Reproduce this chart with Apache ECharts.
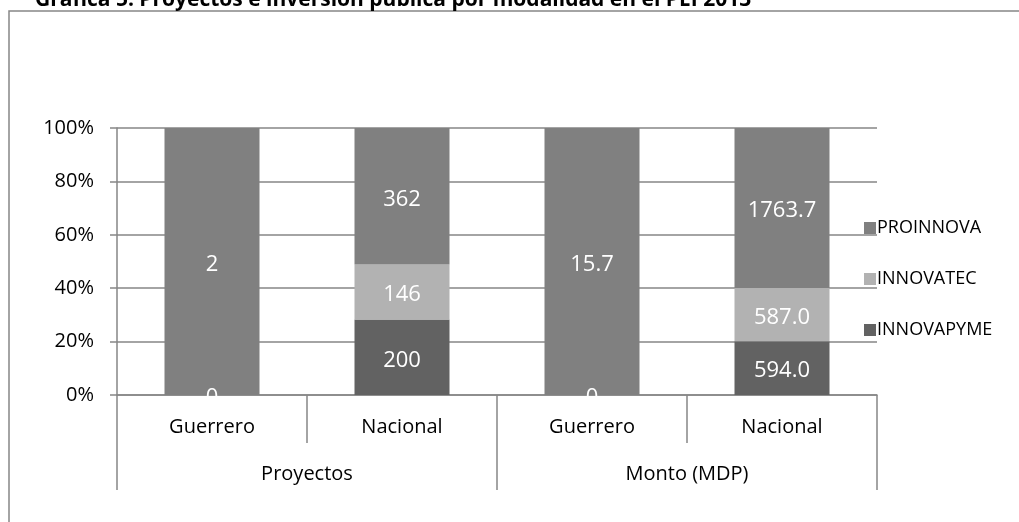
<!DOCTYPE html>
<html>
<head>
<meta charset="utf-8">
<script src="https://cdn.jsdelivr.net/npm/echarts@6/dist/echarts.min.js"></script>
<style>
  html, body { margin: 0; padding: 0; background: #fff; }
  #main { width: 1019px; height: 522px; }
</style>
</head>
<body>
<div id="main"></div>
<script>
var subCats = ["Guerrero", "Nacional", "Guerrero", "Nacional"];
var groupCats = ["Proyectos", "Monto (MDP)"];
var yTicks = [0, 20, 40, 60, 80, 100];

// raw values (labels), stacked to 100% below
var innovapyme = [0, 200, 0, 594.0];
var innovatec = [null, 146, null, 587.0];
var proinnova = [2, 362, 15.7, 1763.7];
var labelDigits = [0, 0, 1, 1];

var grey = "#868686";
var font = "Open Sans";

function pct(arr) {
  return arr.map(function (v, i) {
    if (v == null) return null;
    var tot = (innovapyme[i] || 0) + (innovatec[i] || 0) + (proinnova[i] || 0);
    return v / tot * 100;
  });
}

function fmt(arr) {
  return function (p) {
    var v = arr[p.dataIndex];
    if (v == null) return "";
    if (v === 0) return "0";
    return v.toFixed(labelDigits[p.dataIndex]);
  };
}

function bar(name, raw, color) {
  return {
    name: name,
    type: "bar",
    stack: "total",
    barWidth: "50%",
    xAxisIndex: 0,
    data: pct(raw),
    itemStyle: {color: color},
    label: {
      show: true,
      position: "inside",
      offset: [0, 3],
      color: "#fff",
      fontFamily: font,
      fontSize: 22,
      formatter: fmt(raw)
    }
  };
}

var chart = echarts.init(document.getElementById("main"));
chart.setOption({
  animation: false,
  backgroundColor: "#fff",
  title: {
    text: "Gráfica 5. Proyectos e inversión pública por modalidad en el PEI 2013",
    left: 30,
    top: -15,
    textStyle: {fontFamily: font, fontWeight: "bold", fontSize: 21, color: "#000"}
  },
  graphic: [{
    type: "rect",
    shape: {x: 9, y: 11, width: 1100, height: 600},
    style: {fill: "none", stroke: grey, lineWidth: 1.5},
    z: -1
  }],
  legend: {
    orient: "vertical",
    left: 859,
    top: 214,
    itemWidth: 12,
    itemHeight: 12,
    itemGap: 33,
    icon: "rect",
    data: ["PROINNOVA", "INNOVATEC", "INNOVAPYME"],
    textStyle: {fontFamily: font, fontSize: 18, color: "#000", padding: [0, 0, 0, -4]}
  },
  grid: {left: 117, right: 142, top: 128, bottom: 127},
  xAxis: [{
    type: "category",
    data: subCats,
    position: "bottom",
    axisLine: {lineStyle: {color: grey, width: 1.5}},
    axisTick: {show: true, length: 48, lineStyle: {color: grey, width: 1.5}},
    axisLabel: {margin: 22, fontFamily: font, fontSize: 20, color: "#000"}
  }, {
    type: "category",
    data: groupCats,
    position: "bottom",
    axisLine: {show: false},
    axisTick: {show: true, length: 95, lineStyle: {color: grey, width: 1.5}},
    axisLabel: {margin: 69, fontFamily: font, fontSize: 20, color: "#000"}
  }],
  yAxis: {
    type: "value",
    min: yTicks[0],
    max: yTicks[yTicks.length - 1],
    interval: 20,
    axisLine: {show: true, lineStyle: {color: grey, width: 1.5}},
    axisTick: {show: true, length: 7, lineStyle: {color: grey, width: 1.5}},
    splitLine: {lineStyle: {color: grey, width: 1.5}},
    axisLabel: {margin: 23, fontFamily: font, fontSize: 20, color: "#000", formatter: "{value}%"}
  },
  series: [
    bar("INNOVAPYME", innovapyme, "#626262"),
    bar("INNOVATEC", innovatec, "#b2b2b2"),
    bar("PROINNOVA", proinnova, "#808080")
  ]
});
</script>
</body>
</html>
